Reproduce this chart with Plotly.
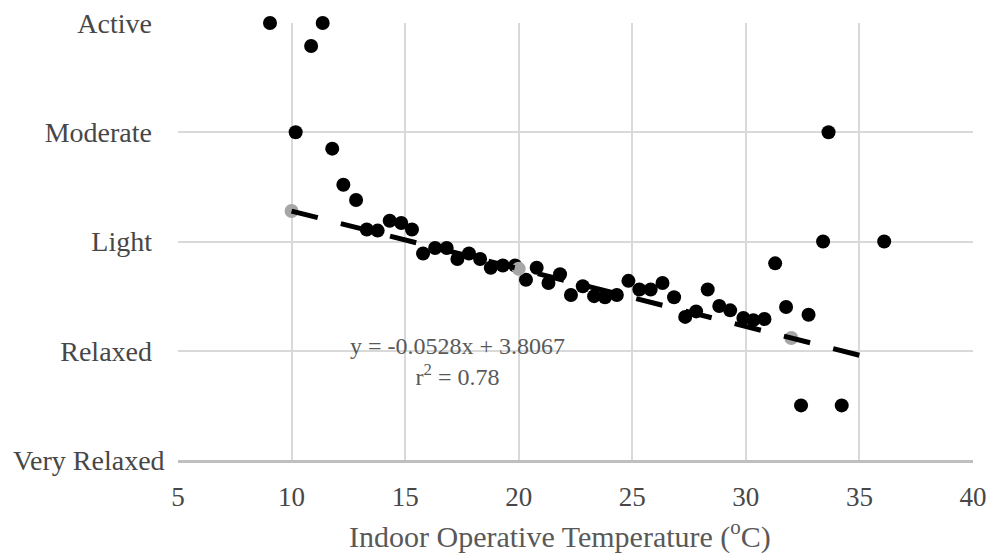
import plotly.graph_objects as go

# Observed activity level (1 = Very Relaxed ... 5 = Active) against indoor operative temperature
temp_c = [9.05, 11.37, 10.86, 10.18, 11.79, 12.28, 12.84, 13.31, 13.79, 14.32,
          14.83, 15.30, 15.79, 16.32, 16.83, 17.30, 17.81, 18.30, 18.77, 19.30,
          19.84, 20.32, 20.79, 21.31, 21.82, 22.30, 22.82, 23.32, 23.80, 24.32,
          24.83, 25.31, 25.81, 26.33, 26.84, 27.33, 27.81, 28.32, 28.83, 29.31,
          29.89, 30.33, 30.82, 31.29, 31.77, 32.76, 32.43, 34.22, 33.40, 36.09,
          33.64]
activity = [5.00, 5.00, 4.79, 4.00, 3.85, 3.52, 3.38, 3.11, 3.10, 3.19,
            3.17, 3.11, 2.89, 2.94, 2.94, 2.84, 2.89, 2.84, 2.76, 2.78,
            2.78, 2.65, 2.76, 2.62, 2.70, 2.51, 2.59, 2.50, 2.49, 2.51,
            2.64, 2.56, 2.56, 2.62, 2.49, 2.31, 2.36, 2.56, 2.41, 2.37,
            2.30, 2.28, 2.29, 2.80, 2.40, 2.33, 1.50, 1.50, 3.00, 3.00,
            4.00]

# Linear fit reported on the chart
slope = -0.0528
intercept = 3.8067
r_squared = 0.78
fit_x = [10, 35]
fit_y = [slope * x + intercept for x in fit_x]

# Reference temperatures highlighted on the fitted line
ref_x = [10, 20, 32]
ref_y = [slope * x + intercept for x in ref_x]

level_values = [1, 2, 3, 4, 5]
level_labels = ["Very Relaxed", "Relaxed", "Light", "Moderate", "Active"]
x_ticks = [5, 10, 15, 20, 25, 30, 35, 40]
x_title = "Indoor Operative Temperature (<sup>o</sup>C)"

FONT = "Liberation Serif, Times New Roman, serif"
TEXT = "#474747"

fig = go.Figure()
fig.add_trace(go.Scatter(
    x=temp_c, y=activity, mode="markers",
    marker=dict(size=14, color="#000000"),
    cliponaxis=False, showlegend=False, hoverinfo="x+y",
))
fig.add_trace(go.Scatter(
    x=ref_x, y=ref_y, mode="markers",
    marker=dict(size=14, color="#a6a6a6"),
    cliponaxis=False, showlegend=False,
))
fig.add_trace(go.Scatter(
    x=fit_x, y=fit_y, mode="lines",
    line=dict(color="#000000", width=5, dash="27px,23.8px"),
    cliponaxis=False, showlegend=False, hoverinfo="skip",
))

# Regression equation and goodness of fit
fig.add_annotation(
    x=17.3, y=1.90, xref="x", yref="y",
    text=f"y = {slope}x + {intercept}<br>r<sup>2</sup> = {r_squared}",
    showarrow=False, align="center", xanchor="center", yanchor="middle",
    font=dict(family=FONT, size=24, color="#595959"),
)

# Lowest level label sits a little further right than the others
tick_text = [""] + level_labels[1:]
fig.add_annotation(
    x=-0.014, y=level_values[0], xref="paper", yref="y",
    text=level_labels[0], showarrow=False,
    xanchor="right", yanchor="middle",
    font=dict(family=FONT, size=28, color=TEXT),
)

# Horizontal axis title
fig.add_annotation(
    x=0.4805, y=-0.170, xref="paper", yref="paper",
    text=x_title, showarrow=False, xanchor="center", yanchor="middle",
    font=dict(family=FONT, size=30, color="#595959"),
)

fig.update_layout(
    width=990, height=554,
    margin=dict(l=178, r=17, t=23, b=94),
    paper_bgcolor="white", plot_bgcolor="white",
    font=dict(family=FONT, color=TEXT),
    xaxis=dict(
        range=[5, 40], tickvals=x_ticks, ticks="", automargin=False,
        showgrid=True, gridcolor="#d9d9d9", gridwidth=2,
        zeroline=False, showline=True, linecolor="#bfbfbf", linewidth=3,
        tickfont=dict(family=FONT, size=27, color=TEXT),
        ticklabelstandoff=11,
    ),
    yaxis=dict(
        range=[1, 5], tickvals=level_values, ticktext=tick_text, ticks="",
        automargin=False,
        showgrid=True, gridcolor="#d9d9d9", gridwidth=2,
        zeroline=False, showline=False,
        tickfont=dict(family=FONT, size=28, color=TEXT),
        ticklabelstandoff=25,
    ),
)

fig.write_html("out.html")
